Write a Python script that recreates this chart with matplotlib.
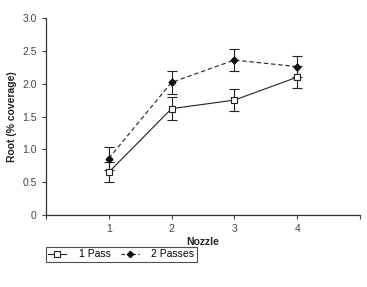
import matplotlib.pyplot as plt
from matplotlib import font_manager
from matplotlib.lines import Line2D

# data
nozzle = [1, 2, 3, 4]
pass1 = [0.65, 1.62, 1.75, 2.10]
pass1_err = [0.15, 0.17, 0.17, 0.17]
pass2 = [0.86, 2.02, 2.36, 2.26]
pass2_err = [0.17, 0.17, 0.17, 0.16]

names = {f.name for f in font_manager.fontManager.ttflist}
fam = 'Liberation Sans Narrow' if 'Liberation Sans Narrow' in names else 'Liberation Sans'
plt.rcParams['font.family'] = [fam, 'DejaVu Sans']

fig = plt.figure(figsize=(3.67, 2.87), dpi=100)
ax = fig.add_axes([0.125, 0.251, 0.856, 0.686])

dash = (0, (4, 2.5))
ax.errorbar(nozzle, pass1, yerr=pass1_err, color='#222222', lw=0.8,
            marker='s', ms=5, mfc='white', mec='#222222', mew=0.8,
            capsize=3.5, elinewidth=0.8, capthick=0.8)
ax.errorbar(nozzle, pass2, yerr=pass2_err, color='#222222', lw=0.8, ls=dash,
            marker='D', ms=3.5, mfc='#111111', mec='#111111',
            capsize=3.5, elinewidth=0.8, capthick=0.8)

ax.set_xlim(0, 5)
ax.set_ylim(0, 3.0)
ax.set_xticks([0, 1, 2, 3, 4, 5])
ax.set_xticklabels(['', '1', '2', '3', '4', ''])
ax.set_yticks([0, 0.5, 1.0, 1.5, 2.0, 2.5, 3.0])
ax.set_yticklabels(['0', '0.5', '1.0', '1.5', '2.0', '2.5', '3.0'])
ax.tick_params(labelsize=7.5, colors='#444444', length=3, width=0.8)
for s in ['top', 'right']:
    ax.spines[s].set_visible(False)
for s in ['left', 'bottom']:
    ax.spines[s].set_linewidth(0.9)
    ax.spines[s].set_color('#333333')

ax.set_xlabel('Nozzle', fontsize=7.5, fontweight='bold', color='#222222', labelpad=2)
ax.set_ylabel('Root (% coverage)', fontsize=7.5, fontweight='bold', color='#222222', labelpad=4)

handles = [
    Line2D([], [], color='#222222', lw=0.8, marker='s', ms=4.5, mfc='white', mec='#222222', mew=0.8),
    Line2D([], [], color='#222222', lw=0.8, ls=(0, (3, 2)), marker='D', ms=3.2, mfc='#111111', mec='#111111'),
]
leg = fig.legend(handles, ['1 Pass', '2 Passes'], loc='lower left', bbox_to_anchor=(0.125, 0.087),
                 ncol=2, fontsize=7.5, frameon=True, fancybox=False, edgecolor='#222222',
                 handlelength=1.7, columnspacing=1.0, borderpad=0.25, handletextpad=1.2,
                 borderaxespad=0)
leg.get_frame().set_linewidth(0.8)

fig.savefig('out.png', dpi=100)
